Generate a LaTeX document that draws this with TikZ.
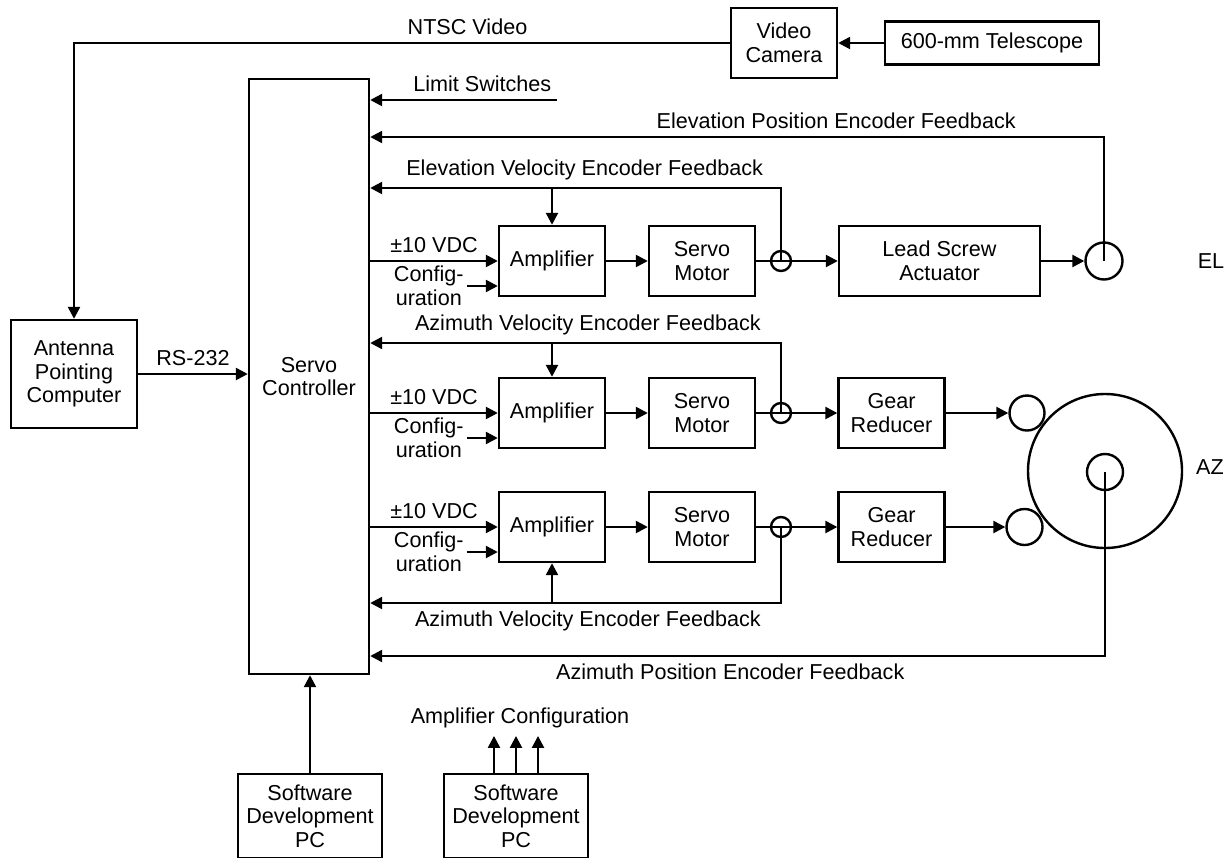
\documentclass[tikz,border=0pt]{standalone}
\usepackage{fontspec}
\setmainfont{Liberation Sans}
\usetikzlibrary{arrows.meta}

\begin{document}
\begin{tikzpicture}[x=0.5pt, y=-0.5pt, align=center, line width=1.2pt,
    font=\fontsize{10.8}{11.8}\selectfont,
    box/.style={draw, rectangle, inner sep=0pt},
    blk/.style={box, minimum width=53pt, minimum height=35pt},
    ring/.style={draw, circle, inner sep=0pt},
    arr/.style={-{Triangle[length=6pt,width=6pt]}}]
  \useasboundingbox (0,0) rectangle (1231,857);

  \path  (784,43)     node[blk] (cam) {Video\\Camera}
         (992,43)     node[box, minimum width=107pt, minimum height=21.5pt] (tscope) {600-mm Telescope}
         (309,376.5)  node[box, minimum width=60pt, minimum height=297.5pt] (servo) {Servo\\Controller}
         (74,374)     node[box, minimum width=63pt, minimum height=54pt] (apc) {Antenna\\Pointing\\Computer}
         (310,816)    node[box, minimum width=72pt, minimum height=42pt] (pc1) {Software\\Development\\PC}
         (516,816)    node[box, minimum width=72pt, minimum height=42pt] (pc2) {Software\\Development\\PC}
         (520,718)    node (acfg) {Amplifier Configuration};

  \path  (552,261)    node[blk] (amp1) {Amplifier}
         +(150,0)     node[blk] (motor1) {Servo\\Motor}
         +(229,0)     node[ring, minimum size=10pt] (sum1) {}
         +(387.5,0)   node[box, minimum width=100.5pt, minimum height=35pt] (lead) {Lead Screw\\Actuator}
         +(552,0)     node[ring, minimum size=18.5pt] (elaxis) {}
         +(659,0)     node (ellbl) {EL};
  \path  (552,413)    node[blk] (amp2) {Amplifier}
         +(150,0)     node[blk] (motor2) {Servo\\Motor}
         +(229,0)     node[ring, minimum size=10pt] (sum2) {}
         +(339.5,0)   node[blk] (gear1) {Gear\\Reducer}
         +(475,0)     node[ring, minimum size=17.5pt] (azpin1) {};
  \path  (552,527)    node[blk] (amp3) {Amplifier}
         +(150,0)     node[blk] (motor3) {Servo\\Motor}
         +(229,0)     node[ring, minimum size=10pt] (sum3) {}
         +(339.5,0)   node[blk] (gear2) {Gear\\Reducer}
         +(472.5,0)   node[ring, minimum size=18pt] (azpin2) {};
  \path  (1105,471)   node[ring, minimum size=77pt] (azwheel) {}
         +(0,1)       node[ring, minimum size=18pt] (azhub) {}
         +(105,-4)    node (azlbl) {AZ};

  \coordinate (lsw) at (557,100);
  \coordinate (elpos) at (1104,137);
  \coordinate (elvel) at (781,188);
  \coordinate (azv1) at (781,343);
  \coordinate (azv2) at (781,603);
  \coordinate (azpos) at (1105,656);

  \draw [arr] (tscope) -- (cam);
  \draw [arr] (cam) -| node [pos=0.2,above] (ntsc) {NTSC Video} (apc);
  \draw [arr] (apc) -- node [above] (rs) {RS-232} (apc -| servo.west);
  \draw [arr] (lsw) -- node [pos=0.4,above] (lswlbl) {Limit Switches} (lsw -| servo.east);
  \draw [arr] (elaxis.center) -- (elpos) -- node [pos=0.365,above] (elposlbl) {Elevation Position Encoder Feedback} (elpos -| servo.east);
  \draw [arr] (sum1.center) -- (elvel) -- node [pos=0.478,above] (elvellbl) {Elevation Velocity Encoder Feedback} (elvel -| servo.east);
  \draw [arr] (elvel -| amp1) -- (amp1);
  \draw [arr] (sum2.center) -- (azv1) -- node [pos=0.47,above] (azv1lbl) {Azimuth Velocity Encoder Feedback} (azv1 -| servo.east);
  \draw [arr] (azv1 -| amp2) -- (amp2);
  \draw [arr] (sum3.center) -- (azv2) -- node [pos=0.47,below] (azv2lbl) {Azimuth Velocity Encoder Feedback} (azv2 -| servo.east);
  \draw [arr] (azv2 -| amp3) -- (amp3);
  \draw [arr] (azhub.center) -- (azpos) -- node [pos=0.51,below] (azposlbl) {Azimuth Position Encoder Feedback} (azpos -| servo.east);

  \draw [arr] (amp1 -| servo.east) -- node [above] (vdc1) {±10 VDC} (amp1);
  \draw [arr] (amp2 -| servo.east) -- node [above] (vdc2) {±10 VDC} (amp2);
  \draw [arr] (amp3 -| servo.east) -- node [above] (vdc3) {±10 VDC} (amp3);
  \draw [arr] ([shift={(-15.5pt,-12.5pt)}]amp1.west) node [left,inner sep=1pt] (cfg1) {Config-\\uration} -- ([yshift=-12.5pt]amp1.west);
  \draw [arr] ([shift={(-15.5pt,-12.5pt)}]amp2.west) node [left,inner sep=1pt] (cfg2) {Config-\\uration} -- ([yshift=-12.5pt]amp2.west);
  \draw [arr] ([shift={(-15.5pt,-12.5pt)}]amp3.west) node [left,inner sep=1pt] (cfg3) {Config-\\uration} -- ([yshift=-12.5pt]amp3.west);

  \draw [arr] (amp1) -- (motor1);
  \draw [arr] (motor1) -- (sum1.center) -- (lead);
  \draw [arr] (lead) -- (elaxis);
  \draw [arr] (amp2) -- (motor2);
  \draw [arr] (motor2) -- (sum2.center) -- (gear1);
  \draw [arr] (gear1) -- (azpin1);
  \draw [arr] (amp3) -- (motor3);
  \draw [arr] (motor3) -- (sum3.center) -- (gear2);
  \draw [arr] (gear2) -- (azpin2);

  \draw [arr] (pc1) -- (pc1 |- servo.south);
  \foreach \dx in {-11pt,0pt,11pt}
    \draw [arr] ([xshift=\dx]pc2.north) -- ([xshift=\dx]pc2.north |- acfg.south);

\end{tikzpicture}
\end{document}
